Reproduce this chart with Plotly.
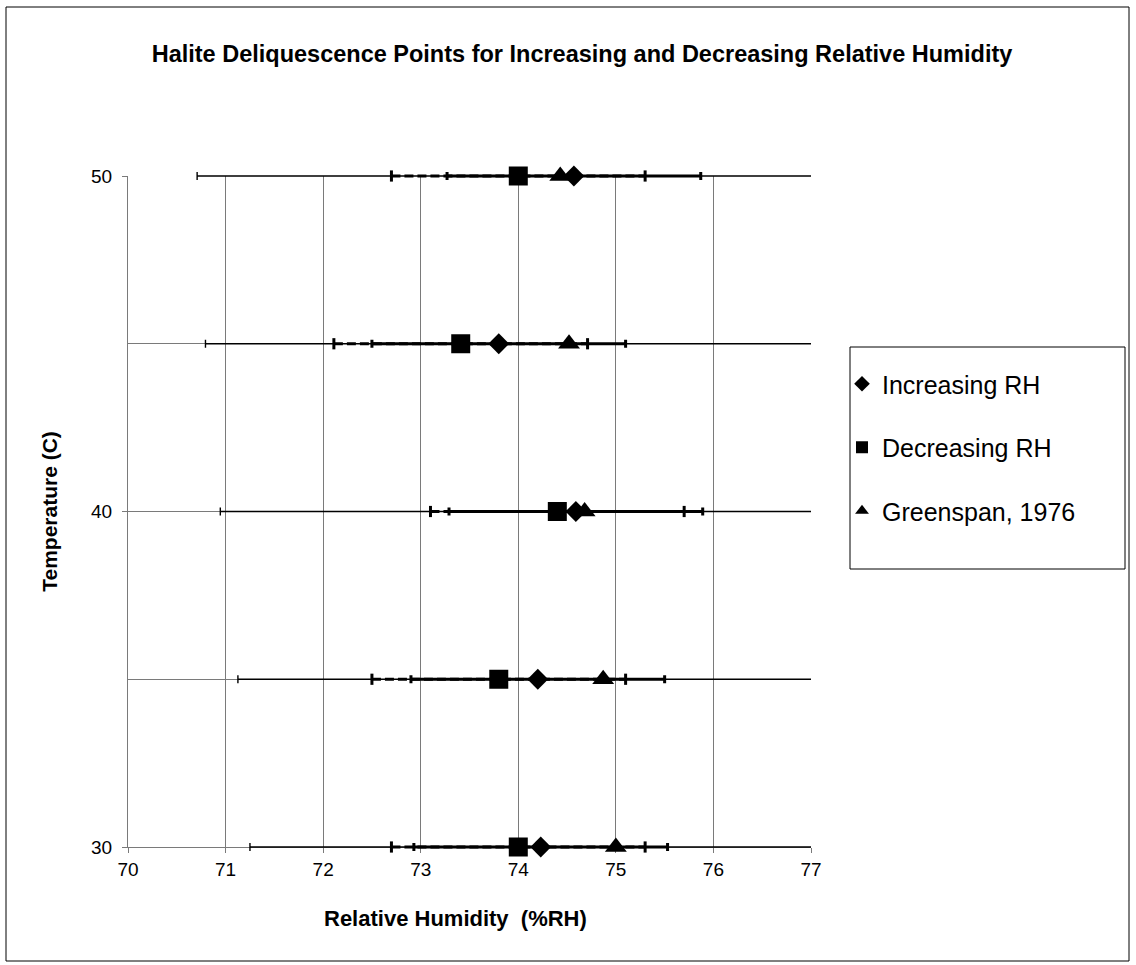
import plotly.graph_objects as go

# ---- data ----
temps = [30, 35, 40, 45, 50]
inc_rh = [74.23, 74.20, 74.59, 73.80, 74.57]
dec_rh = [74.00, 73.80, 74.40, 73.41, 74.00]
greenspan_rh = [75.00, 74.87, 74.68, 74.52, 74.43]
inc_err = 1.3          # %RH, constant
dec_err = 1.3          # %RH, constant
greenspan_err_pct = 5  # percent

series_names = ["Increasing RH", "Decreasing RH", "Greenspan, 1976"]
x_ticks = [70, 71, 72, 73, 74, 75, 76, 77]
y_ticks = [30, 40, 50]
x_range = [70, 77]
y_range = [30, 50]

FONT = "Liberation Sans, Arial, sans-serif"

# plot-area geometry (pixels)
PL, PR, PT, PB = 128, 811, 176, 847
PAD = 14  # extra vertical room so marks on the edge rows are not clipped
PW, PH = PR - PL, PB - PT
H2 = PH + 2 * PAD
d = PAD / H2
unit = PH / (y_range[1] - y_range[0])
y2_range = [y_range[0] - PAD / unit, y_range[1] + PAD / unit]


def px2x(p):
    return (p - PL) / PW


def py2y(p):
    return (PB + PAD - p) / H2


fig = go.Figure()

# invisible trace that anchors the main (gridded) subplot
fig.add_trace(go.Scatter(x=inc_rh, y=temps, mode="markers", showlegend=False,
                         hoverinfo="skip", marker=dict(size=1, opacity=0),
                         xaxis="x", yaxis="y"))

# Decreasing RH error bars (dashed, thick) drawn as lines
dx, dy, cx, cy = [], [], [], []
for t, v in zip(temps, dec_rh):
    dx += [v - dec_err, v + dec_err, None]
    dy += [t, t, None]
    cx += [v - dec_err, v + dec_err]
    cy += [t, t]

common = dict(xaxis="x2", yaxis="y2")

fig.add_trace(go.Scatter(x=dx, y=dy, mode="lines", showlegend=False, hoverinfo="skip",
                         line=dict(color="black", width=3, dash="9px,4px"), **common))
fig.add_trace(go.Scatter(x=cx, y=cy, mode="markers", showlegend=False, hoverinfo="skip",
                         marker=dict(symbol="line-ns", size=8, color="black",
                                     line=dict(color="black", width=3)), **common))

# Greenspan thin error bars (5 %)
fig.add_trace(go.Scatter(x=greenspan_rh, y=temps, mode="markers", showlegend=False,
                         hoverinfo="skip", marker=dict(size=1, opacity=0),
                         error_x=dict(type="percent", value=greenspan_err_pct,
                                      color="black", thickness=1.4, width=4), **common))

# Increasing RH thick solid error bars
fig.add_trace(go.Scatter(x=inc_rh, y=temps, mode="markers", showlegend=False,
                         hoverinfo="skip", marker=dict(size=1, opacity=0),
                         error_x=dict(type="constant", value=inc_err,
                                      color="black", thickness=3, width=4), **common))

# markers
fig.add_trace(go.Scatter(x=inc_rh, y=temps, mode="markers", name=series_names[0],
                         legendgroup="a", cliponaxis=False,
                         marker=dict(symbol="diamond", size=16, color="black"), **common))
fig.add_trace(go.Scatter(x=dec_rh, y=temps, mode="markers", name=series_names[1],
                         legendgroup="b", cliponaxis=False,
                         marker=dict(symbol="square", size=19, color="black"), **common))
fig.add_trace(go.Scatter(x=greenspan_rh, y=temps, mode="markers", name=series_names[2],
                         legendgroup="c", cliponaxis=False,
                         marker=dict(symbol="triangle-up", size=19, color="black"), **common))

GRID = "#7a7a7a"

fig.update_layout(
    width=1136, height=965,
    margin=dict(l=PL, r=1136 - PR, t=PT - PAD, b=965 - PB - PAD),
    paper_bgcolor="white", plot_bgcolor="rgba(0,0,0,0)",
    font=dict(family=FONT, color="black", size=19),
    title=dict(text="<b>Halite Deliquescence Points for Increasing and Decreasing Relative Humidity</b>",
               x=582 / 1136, xref="container", y=1 - 54 / 965, yref="container",
               xanchor="center", yanchor="middle",
               font=dict(family=FONT, size=23.5, color="black")),
    xaxis=dict(range=x_range, tickvals=x_ticks, ticktext=[str(v) for v in x_ticks],
               domain=[0, 1], anchor="y",
               showgrid=True, gridcolor=GRID, gridwidth=1,
               showline=True, linecolor=GRID, linewidth=1,
               ticks="outside", ticklen=5, tickcolor=GRID,
               zeroline=False,
               tickfont=dict(family=FONT, size=19, color="black")),
    yaxis=dict(range=y_range, tickvals=y_ticks, ticktext=[str(v) for v in y_ticks],
               domain=[d, 1 - d], anchor="x",
               showgrid=True, gridcolor=GRID, gridwidth=1,
               minor=dict(dtick=5, tick0=30, showgrid=True, gridcolor=GRID, gridwidth=1,
                          ticks=""),
               showline=True, linecolor=GRID, linewidth=1,
               ticks="outside", ticklen=5, tickcolor=GRID,
               ticklabelstandoff=6,
               zeroline=False,
               tickfont=dict(family=FONT, size=19, color="black"),
               title=dict(text="<b>Temperature (C)</b>", standoff=27,
                          font=dict(family=FONT, size=21, color="black"))),
    xaxis2=dict(range=x_range, domain=[0, 1], anchor="y2", visible=False,
                showgrid=False, zeroline=False),
    yaxis2=dict(range=y2_range, domain=[0, 1], anchor="x2", visible=False,
                showgrid=False, zeroline=False),
    annotations=[
        dict(text="<b>Relative Humidity  (%RH)</b>", xref="paper", yref="paper",
             x=px2x(455), y=py2y(918), xanchor="center", yanchor="middle",
             showarrow=False, font=dict(family=FONT, size=22, color="black")),
    ],
    showlegend=True,
    legend=dict(x=px2x(842), y=py2y(361), xanchor="left", yanchor="top",
                bgcolor="rgba(0,0,0,0)", borderwidth=0,
                font=dict(family=FONT, size=25, color="black"),
                tracegroupgap=28, itemsizing="constant", traceorder="grouped"),
    shapes=[
        dict(type="rect", xref="paper", yref="paper",
             x0=px2x(850), x1=px2x(1125), y0=py2y(569), y1=py2y(347),
             line=dict(color="black", width=1), fillcolor="rgba(0,0,0,0)"),
        dict(type="rect", xref="paper", yref="paper",
             x0=px2x(6), x1=px2x(1129), y0=py2y(961), y1=py2y(7),
             line=dict(color="black", width=1), fillcolor="rgba(0,0,0,0)"),
    ],
)

fig.write_html("out.html", config={"displayModeBar": False},
               post_script="document.body.style.margin='0px';document.body.style.overflow='hidden';")
